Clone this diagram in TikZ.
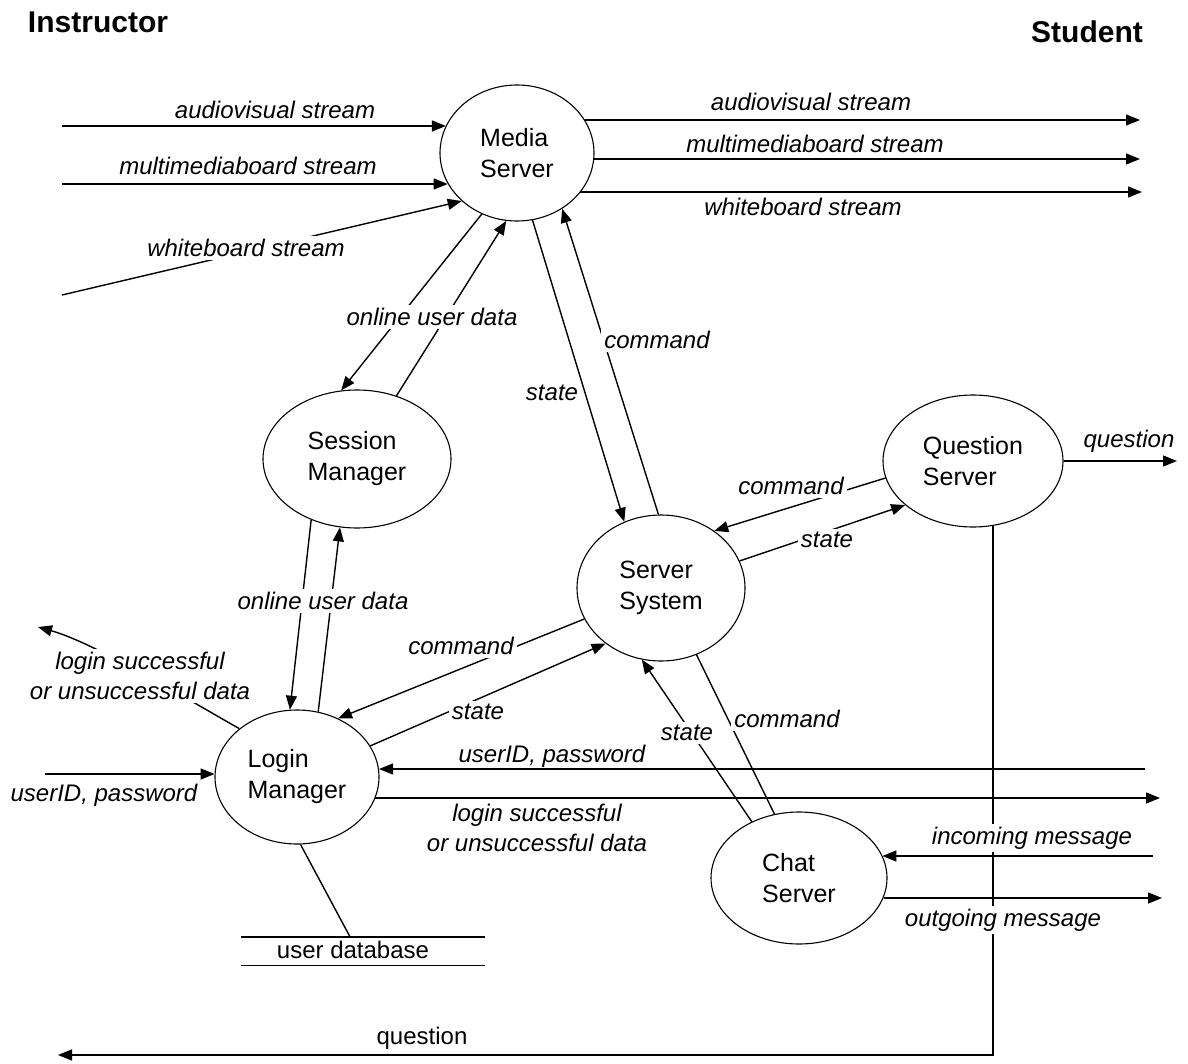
\documentclass[tikz,border=0pt]{standalone}
\usepackage{fontspec}
\setmainfont{Liberation Sans}
\usetikzlibrary{arrows.meta,shapes.geometric}
\begin{document}
\begin{tikzpicture}[x=1pt,y=-1pt,
  proc/.style={ellipse,draw,line width=1.1pt,align=left,font=\fontsize{25}{31}\selectfont,inner sep=0pt},
  arr/.style={line width=1.4pt,-{Triangle[length=14pt,width=11pt]}},
  ln/.style={line width=1.4pt},
  lbl/.style={font=\fontsize{24}{30}\selectfont\itshape,inner sep=1pt,align=center},
  lblw/.style={lbl,fill=white,inner sep=3pt},
  upr/.style={font=\fontsize{24}{30}\selectfont,inner sep=1pt},
  ttl/.style={font=\fontsize{30}{36}\selectfont\bfseries,inner sep=0pt}]

\useasboundingbox (0,0) rectangle (1188,1064);
\fill[white] (0,0) rectangle (1188,1064);

% processes
\node[proc,minimum width=154pt,minimum height=136pt] (ms) at (517,153) {Media\\Server};
\node[proc,minimum width=188pt,minimum height=138pt] (sm) at (357,459) {Session\\Manager};
\node[proc,minimum width=168pt,minimum height=146pt] (ss) at (661,588) {Server\\System};
\node[proc,minimum width=180pt,minimum height=132pt] (qs) at (973,461) {Question\\Server};
\node[proc,minimum width=164pt,minimum height=134pt] (lm) at (297,777) {Login\\Manager};
\node[proc,minimum width=176pt,minimum height=132pt] (cs) at (799,878) {Chat\\Server};

% data store
\node[minimum width=243pt,minimum height=28pt,inner sep=0pt] (db) at (363,951) {};
\draw[ln] (db.north west) -- (db.north east) (db.south west) -- (db.south east);
\node[upr] (dbt) at (353,950) {user database};

% free ends
\coordinate (avin) at (62,126);
\coordinate (mmin) at (62,184);
\coordinate (wbin) at (62,295);
\coordinate (avout) at (1140,120);
\coordinate (mmout) at (1140,159);
\coordinate (wbout) at (1142,192);
\coordinate (qout) at (1177,461);
\coordinate (qend) at (58,1055);
\coordinate (uidl) at (45,774);
\coordinate (uidr) at (1145,769);
\coordinate (lsr) at (1160,798);
\coordinate (lsl) at (38,627);
\coordinate (inm) at (1153,856);
\coordinate (outm) at (1162,898);

% connectors
\draw[arr] (avin) -- (avin -| ms.159);
\draw[arr] (mmin) -- (mmin -| ms.204);
\draw[arr] (wbin) -- (ms.221);
\draw[arr] (avout -| ms.26) -- (avout);
\draw[arr] (mmout -| ms.-4.5) -- (mmout);
\draw[arr] (wbout -| ms.-32) -- (wbout);
\draw[arr] (ms.240) -- (sm.103);
\draw[arr] (sm.58) -- (ms.261);
\draw[arr] (ms.283) -- (ss.119);
\draw[arr] (ss.92) -- (ms.-51);
\draw[arr] (sm.233) -- (lm.96);
\draw[arr] (lm.72) -- (sm.256);
\draw[arr] (ss.202) -- (lm.55);
\draw[arr] (lm.23) -- (ss.225);
\draw[arr] (qs.191) -- (ss.47);
\draw[arr] (ss.19) -- (qs.213);
\draw[arr] (qs.east) -- (qout);
\draw[arr] (qs.-73) |- (qend);
\draw[arr] (cs.130) -- (ss.255);
\draw[ln] (ss.-62) -- (cs.111);
\draw[arr] (uidl) -- (uidl -| lm.178);
\draw[arr] (uidr) -- (uidr -| lm.5.6);
\draw[arr] (lsr -| lm.-15) -- (lsr);
\draw[arr] (lm.140) .. controls (185,698) and (95,643) .. (lsl);
\draw[arr] (inm) -- (inm -| cs.15);
\draw[arr] (outm -| cs.-13) -- (outm);
\draw[ln] (lm.-87) -- ([xshift=-13pt]db.north);

% labels
\node[lbl] (l1) at (275,110) {audiovisual stream};
\node[lbl] (l2) at (248,166) {multimediaboard stream};
\node[lblw] (l3) at (246,248) {whiteboard stream};
\node[lbl] (l4) at (811,102) {audiovisual stream};
\node[lbl] (l5) at (815,144) {multimediaboard stream};
\node[lbl] (l6) at (803,207) {whiteboard stream};
\node[lblw] (l7) at (432,317) {online user data};
\node[lblw] (l8) at (552,393) {state};
\node[lblw] (l9) at (657,340) {command};
\node[lblw] (l10) at (323,601) {online user data};
\node[lblw] (l11) at (791,486) {command};
\node[lblw] (l12) at (827,540) {state};
\node[lbl] (l13) at (1129,441) {question};
\node[lblw] (l14) at (461,646) {command};
\node[lblw] (l15) at (478,712) {state};
\node[lblw] (l16) at (687,733) {state};
\node[lblw] (l17) at (787,719) {command};
\node[lblw] (l18) at (140,676) {login successful\\or unsuccessful data};
\node[lbl] (l19) at (104,795) {userID, password};
\node[lbl] (l20) at (552,756) {userID, password};
\node[lbl] (l21) at (537,828) {login successful\\or unsuccessful data};
\node[lblw] (l22) at (1032,838) {incoming message};
\node[lblw] (l23) at (1003,920) {outgoing message};
\node[upr] (l24) at (422,1038) {question};

\node[ttl] (ins) at (98,22) {Instructor};
\node[ttl] (stu) at (1087,32) {Student};
\end{tikzpicture}
\end{document}
